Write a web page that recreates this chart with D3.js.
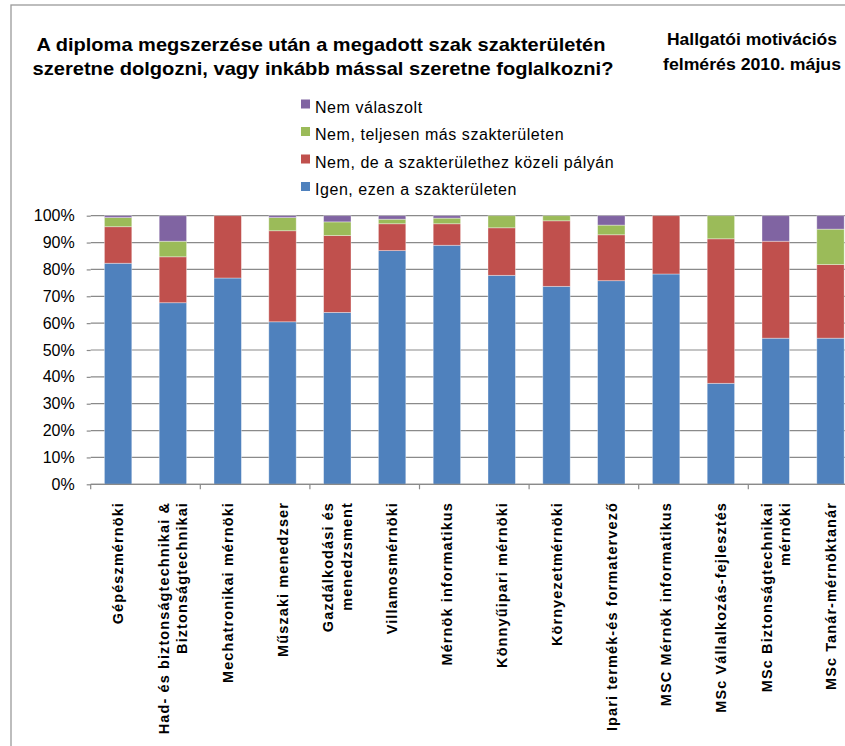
<!DOCTYPE html>
<html>
<head>
<meta charset="utf-8">
<script src="https://cdn.jsdelivr.net/npm/d3@7"></script>
<style>
  html, body { margin: 0; padding: 0; background: #fff; overflow: hidden; }
  svg { display: block; }
  text { font-family: "Liberation Sans", Arial, sans-serif; fill: #000; }
</style>
</head>
<body>
<svg id="chart" width="845" height="746"></svg>
<script>
// ---- data ----
const categories = [
  "Gépészmérnöki",
  "Had- és biztonságtechnikai &\nBiztonságtechnikai",
  "Mechatronikai mérnöki",
  "Műszaki menedzser",
  "Gazdálkodási és\nmenedzsment",
  "Villamosmérnöki",
  "Mérnök informatikus",
  "Könnyűipari mérnöki",
  "Környezetmérnöki",
  "Ipari termék-és formatervező",
  "MSC Mérnök informatikus",
  "MSc Vállalkozás-fejlesztés",
  "MSc Biztonságtechnikai\nmérnöki",
  "MSc Tanár-mérnöktanár"
];
const seriesNames = [
  "Igen, ezen a szakterületen",
  "Nem, de a szakterülethez közeli pályán",
  "Nem, teljesen más szakterületen",
  "Nem válaszolt"
];
const igen   = [82.3, 67.6, 76.8, 60.5, 64.0, 87.0, 89.0, 77.8, 73.7, 75.8, 78.3, 37.6, 54.4, 54.4];
const kozeli = [13.6, 17.1, 23.2, 33.9, 28.6, 10.0,  8.0, 17.7, 24.4, 17.1, 21.7, 53.8, 36.1, 27.4];
const mas    = [ 3.4,  5.8,  0.0,  4.9,  5.1,  1.7,  2.1,  4.5,  1.9,  3.6,  0.0,  8.6,  0.0, 13.2];
const nem    = [ 0.7,  9.5,  0.0,  0.7,  2.3,  1.3,  0.9,  0.0,  0.0,  3.5,  0.0,  0.0,  9.5,  5.0];
const yTicks = [0, 10, 20, 30, 40, 50, 60, 70, 80, 90, 100];
const titleLines = [
  "A diploma megszerzése után a megadott szak szakterületén",
  "szeretne dolgozni, vagy inkább mással szeretne foglalkozni?"
];
const subtitleLines = ["Hallgatói motivációs", "felmérés 2010. május"];

// ---- styling ----
const colors = ["#4F81BD", "#C0504D", "#9BBB59", "#8064A2"];
const keys = ["igen", "kozeli", "mas", "nem"];

const rows = categories.map((c, i) => ({
  cat: c, igen: igen[i], kozeli: kozeli[i], mas: mas[i], nem: nem[i]
}));

const svg = d3.select("#chart");

// outer chart border
svg.append("rect")
  .attr("x", 11).attr("y", 5).attr("width", 900).attr("height", 760)
  .attr("fill", "none").attr("stroke", "#9a9a9a").attr("stroke-width", 1.3);

const plot = { left: 90.7, top: 215.7, bottom: 484.3, step: 54.8 };
const x = d3.scaleBand()
  .domain(categories)
  .range([plot.left, plot.left + plot.step * categories.length])
  .paddingInner(0.5).paddingOuter(0.25);
const y = d3.scaleLinear().domain([0, 100]).range([plot.bottom, plot.top]);

// gridlines + y axis
const yAxis = d3.axisLeft(y).tickValues(yTicks).tickFormat(d => d + "%")
  .tickSize(4).tickPadding(12);
const gy = svg.append("g").attr("transform", `translate(${plot.left},0)`).call(yAxis);
gy.select(".domain").remove();
gy.selectAll(".tick line").attr("stroke", "#8a8a8a").attr("stroke-width", 1.2);
gy.selectAll(".tick text").style("font-size", "16px")
  .style("font-family", "Liberation Sans, Arial, sans-serif").attr("fill", "#000");

svg.append("g").selectAll("line").data(yTicks).join("line")
  .attr("x1", plot.left).attr("x2", 845)
  .attr("y1", d => y(d)).attr("y2", d => y(d))
  .attr("stroke", "#8a8a8a").attr("stroke-width", 1.2);

// stacked bars
const stack = d3.stack().keys(keys)(rows);
svg.append("g").selectAll("g").data(stack).join("g")
  .attr("fill", (d, i) => colors[i])
  .selectAll("rect").data(d => d).join("rect")
  .attr("x", d => x(d.data.cat))
  .attr("width", x.bandwidth())
  .attr("y", d => y(d[1]))
  .attr("height", d => Math.max(0, y(d[0]) - y(d[1])))
  .attr("stroke", "rgba(255,255,255,0.45)")
  .attr("stroke-width", 0.8);

// x axis line and tick marks every 2 categories
svg.append("line")
  .attr("x1", plot.left).attr("x2", 845)
  .attr("y1", y(0)).attr("y2", y(0))
  .attr("stroke", "#8a8a8a").attr("stroke-width", 1.3);
const tickIdx = d3.range(0, categories.length + 1, 2);
svg.append("g").selectAll("line").data(tickIdx).join("line")
  .attr("x1", i => x.step() * i + plot.left).attr("x2", i => x.step() * i + plot.left)
  .attr("y1", y(0)).attr("y2", y(0) + 5)
  .attr("stroke", "#8a8a8a").attr("stroke-width", 1.2);

// x category labels (rotated)
const lineH = 18.3;
const xl = svg.append("g").selectAll("text").data(categories).join("text")
  .attr("transform", d => `translate(${x(d) + x.bandwidth() / 2},502) rotate(-90)`)
  .attr("text-anchor", "end")
  .style("font-size", "14.5px").style("font-weight", "bold")
  .style("letter-spacing", "1.1px");
xl.each(function(d) {
  const parts = d.split("\n");
  const t = d3.select(this);
  parts.forEach((p, j) => {
    const off = (j - (parts.length - 1) / 2) * lineH;
    t.append("tspan").attr("x", 0).attr("y", off).attr("dy", "0.36em").text(p);
  });
});

// legend (reverse order)
const legendOrder = [3, 2, 1, 0];
const lg = svg.append("g");
legendOrder.forEach((si, r) => {
  const base = 112.5 + r * 27.5;
  lg.append("rect").attr("x", 301).attr("y", base - 13).attr("width", 9).attr("height", 9)
    .attr("fill", colors[si]);
  lg.append("text").attr("x", 315).attr("y", base)
    .style("font-size", "16px").style("letter-spacing", "0.55px")
    .text(seriesNames[si]);
});

// titles
const tBase = [50.5, 75];
titleLines.forEach((t, i) => {
  svg.append("text").attr("x", i === 0 ? 36.5 : 32.5).attr("y", tBase[i])
    .style("font-size", "18.5px").style("font-weight", "bold")
    .attr("textLength", i === 0 ? 569 : 581).attr("lengthAdjust", "spacingAndGlyphs")
    .text(t);
});
const sBase = [45, 70];
subtitleLines.forEach((t, i) => {
  svg.append("text").attr("x", 752).attr("y", sBase[i]).attr("text-anchor", "middle")
    .style("font-size", "16.5px").style("font-weight", "bold")
    .attr("textLength", i === 0 ? 170 : 178).attr("lengthAdjust", "spacingAndGlyphs")
    .text(t);
});
</script>
</body>
</html>
